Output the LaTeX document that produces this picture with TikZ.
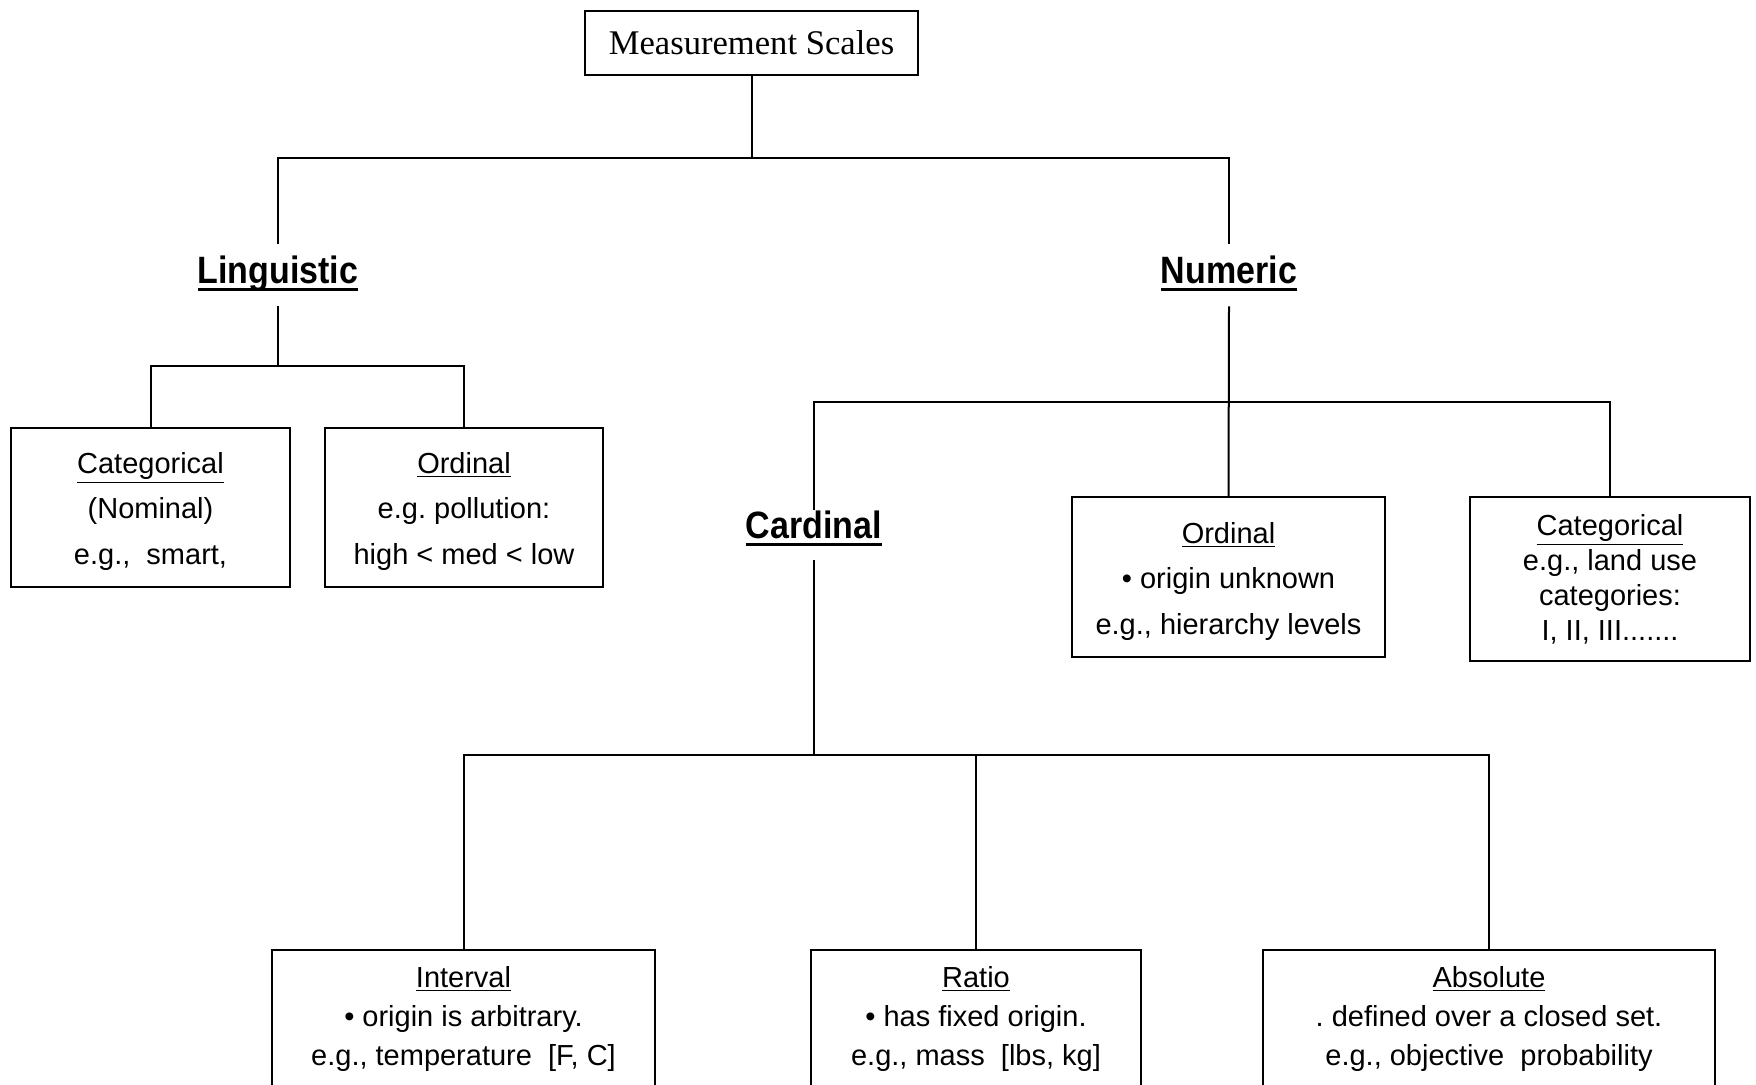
\documentclass[tikz,border=0pt]{standalone}
\usepackage{fontspec}
\setmainfont{Liberation Sans}
\newfontfamily\serifT{Liberation Serif}
\frenchspacing
\newcommand\myuline[1]{\setbox0\hbox{#1}\rlap{\rule[-3.6pt]{\wd0}{1.4pt}}\box0}
\begin{document}
\begin{tikzpicture}[x=0.5pt,y=-0.5pt,
  conn/.style={line width=1pt},
  box/.style={draw, line width=1.2pt, rectangle, inner sep=0pt},
  btxt/.style={font=\fontsize{14.5}{22.75}\selectfont, align=center, inner sep=0pt},
  head/.style={font=\fontsize{17}{20}\bfseries\selectfont, inner sep=0pt, text height=14pt, text depth=5pt, minimum height=31pt, minimum width=90pt}
]
\useasboundingbox (0,0) rectangle (1756,1085);
\clip (0,0) rectangle (1756,1085);
\fill[white] (0,0) rectangle (1756,1085);

% title
\node[box, minimum width=166.5pt, minimum height=32pt, font=\serifT\fontsize{17.3}{20}\selectfont] (root) at (751.5,43) {Measurement Scales};

% headings
\node[head] (ling) at (278,275) {\myuline{\scalebox{1}[1.12]{Linguistic}}};
\node[head] (num) at (1229,275) {\myuline{\scalebox{1}[1.12]{Numeric}}};
\node[head, minimum height=25pt] (card) at (814,535) {\raisebox{2.5pt}{\myuline{\scalebox{1}[1.12]{Cardinal}}}};

% boxes
\node[box, minimum width=139.5pt, minimum height=79.5pt] (lcat) at (150.5,507.5) {};
\node[box, minimum width=139pt, minimum height=79.5pt] (lord) at (464,507.5) {};
\node[box, minimum width=156.5pt, minimum height=80pt] (nord) at (1228.5,577) {};
\node[box, minimum width=140pt, minimum height=82pt] (ncat) at (1610,579) {};
\node[box, minimum width=191.5pt, minimum height=100pt] (int) at (463.5,1050) {};
\node[box, minimum width=165pt, minimum height=100pt] (rat) at (976,1050) {};
\node[box, minimum width=226pt, minimum height=100pt] (abs) at (1489,1050) {};

% box texts
\node[btxt] (lcatT) at (150.5,511.5) {\underline{Categorical}\\(Nominal)\\e.g.,\ \ smart,};
\node[btxt] (lordT) at (464,511.5) {\underline{Ordinal}\\e.g. pollution:\\high < med < low};
\node[btxt] (nordT) at (1228.5,581) {\underline{Ordinal}\\\textbullet\ origin unknown\\e.g., hierarchy levels};
\node[btxt, font=\fontsize{14.5}{17.5}\selectfont] (ncatT) at (1610,579.5) {\underline{Categorical}\\e.g., land use\\categories:\\I, II, III.......};
\node[btxt, font=\fontsize{14.5}{19.5}\selectfont] (intT) at (463.5,1019) {\underline{Interval}\\\textbullet\ origin is arbitrary.\\e.g., temperature\ \ [F, C]};
\node[btxt, font=\fontsize{14.5}{19.5}\selectfont] (ratT) at (976,1019) {\underline{Ratio}\\\textbullet\ has fixed origin.\\e.g., mass\ \ [lbs, kg]};
\node[btxt, font=\fontsize{14.5}{19.5}\selectfont] (absT) at (1489,1019) {\underline{Absolute}\\. defined over a closed set.\\e.g., objective\ \ probability};

% connectors
\coordinate (j1) at (751.5,158);
\draw[conn] (root.south) -- (j1);
\draw[conn] (ling.north) |- (j1) -| (num.north);

\coordinate (j2) at (278,366);
\draw[conn] (ling.south) -- (j2);
\draw[conn] (lcat.north) |- (j2) -| (lord.north);

\coordinate (j3) at (1229,402);
\draw[conn] (num.south) -- (nord.north);
\draw[conn] (card.north) |- (j3) -| (ncat.north);

\coordinate (j4) at (814,755);
\draw[conn] (card.south) -- (j4);
\draw[conn] (int.north) |- (j4) -| (abs.north);
\draw[conn] (rat.north) -- (rat.north |- j4);
\end{tikzpicture}
\end{document}
